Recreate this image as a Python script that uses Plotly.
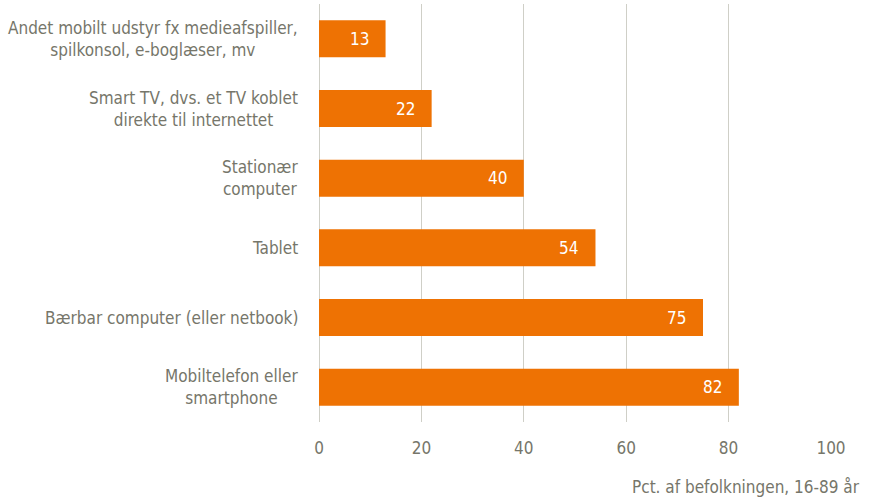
import plotly.graph_objects as go

categories = [
    "Andet mobilt udstyr fx medieafspiller,<br>spilkonsol, e-boglæser, mv",
    "Smart TV, dvs. et TV koblet<br>direkte til internettet",
    "Stationær<br>computer",
    "Tablet",
    "Bærbar computer (eller netbook)",
    "Mobiltelefon eller<br>smartphone",
]
values = [13, 22, 40, 54, 75, 82]
x_ticks = [0, 20, 40, 60, 80, 100]
axis_title = "Pct. af befolkningen, 16-89 år"

FONT = "DejaVu Sans Condensed, Liberation Sans Narrow, Arial Narrow, sans-serif"
FS = 17
TXT = "#76766A"
BAR = "#EE7203"
GRID = "#CFCFC7"

fig = go.Figure(go.Bar(
    x=values, y=categories, orientation="h",
    marker=dict(color=BAR, line=dict(width=0)),
    width=0.53, hoverinfo="skip",
))

annotations = []
for c, v in zip(categories, values):
    annotations.append(dict(x=v, y=c, xref="x", yref="y", text=str(v),
                            showarrow=False, xanchor="right", xshift=-15,
                            font=dict(family=FONT, size=FS, color="white")))
    annotations.append(dict(x=0, y=c, xref="paper", yref="y", text=c,
                            showarrow=False, xanchor="right", xshift=-19,
                            align="center",
                            font=dict(family=FONT, size=FS, color=TXT)))
annotations.append(dict(x=1.0605, y=-0.1555, xref="paper", yref="paper",
                        text=axis_title, showarrow=False, xanchor="right",
                        yanchor="middle",
                        font=dict(family=FONT, size=FS, color=TXT)))

fig.update_layout(
    width=876, height=499,
    margin=dict(l=319, r=45, t=4, b=77),
    paper_bgcolor="white", plot_bgcolor="white",
    showlegend=False,
    bargap=0.47,
    font=dict(family=FONT, size=FS, color=TXT),
    xaxis=dict(range=[0, 100], tickvals=x_ticks, showgrid=True, gridcolor=GRID,
               gridwidth=1, zeroline=True, zerolinecolor=GRID, zerolinewidth=1,
               showline=False, ticks="", ticklabelstandoff=14,
               tickfont=dict(family=FONT, size=FS, color=TXT)),
    yaxis=dict(autorange="reversed", showticklabels=False, showgrid=False,
               zeroline=False, showline=False, ticks=""),
    annotations=annotations,
)

fig.write_html("out.html", config={"displayModeBar": False},
               post_script="document.body.style.margin='0';document.body.style.overflow='hidden';")
